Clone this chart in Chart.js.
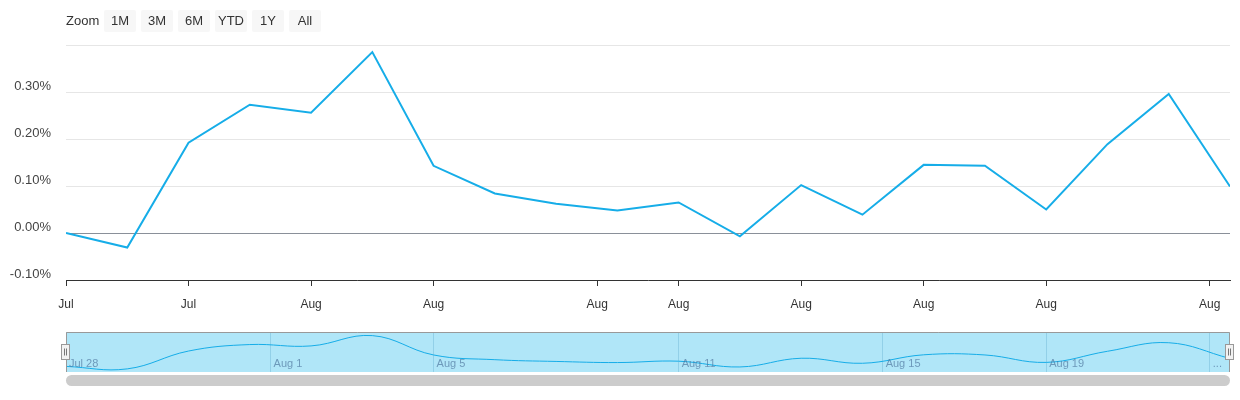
<!DOCTYPE html>
<html>
<head>
<meta charset="utf-8">
<script src="https://cdn.jsdelivr.net/npm/chart.js@4.4.1/dist/chart.umd.min.js"></script>
<style>
  body { margin: 0; background: #fff; font-family: 'Liberation Sans', Arial, sans-serif; }
  #wrap { position: relative; width: 1240px; height: 400px; overflow: hidden; }
  #main { position: absolute; left: 0; top: 0; }
  #nav { position: absolute; left: 0; top: 320px; }
  .zoom-label { position: absolute; left: 66px; top: 10px; height: 22px; line-height: 22px; font-size: 13px; color: #333; }
  .btn { position: absolute; top: 10px; width: 32px; height: 22px; line-height: 22px; text-align: center;
         font-size: 13px; color: #333; background: #f7f7f7; border-radius: 2px; }
</style>
</head>
<body>
<div id="wrap">
  <canvas id="main" width="1240" height="320"></canvas>
  <canvas id="nav" width="1240" height="80"></canvas>
  <div class="zoom-label">Zoom</div>
  <div id="buttons"></div>
</div>
<script>
// daily return, in percent
var values = [0.000, -0.031, 0.192, 0.273, 0.256, 0.385, 0.143, 0.084, 0.062, 0.048,
              0.065, -0.007, 0.102, 0.039, 0.145, 0.143, 0.050, 0.189, 0.296, 0.099]

// main x axis ticks (ordinal positions) and their labels
var axisTickPos = [0, 2, 4, 6, 8.67, 10, 12, 14, 16, 18.67]
var axisTickLabels = ['Jul', 'Jul', 'Aug', 'Aug', 'Aug', 'Aug', 'Aug', 'Aug', 'Aug', 'Aug']

// navigator ticks
var navTickPos = [0, 3.34, 6, 10, 13.33, 16, 18.67]
var navTickLabels = ['Jul 28', 'Aug 1', 'Aug 5', 'Aug 11', 'Aug 15', 'Aug 19', '...']

var zoomButtons = ['1M', '3M', '6M', 'YTD', '1Y', 'All']

var lineColor = '#16ade8'

Chart.defaults.font.family = "'Liberation Sans', Arial, sans-serif"

var btnBox = document.getElementById('buttons')
zoomButtons.forEach(function(b, i) {
	var d = document.createElement('div')
	d.className = 'btn'
	d.style.left = (104 + i * 37) + 'px'
	d.textContent = b
	btnBox.appendChild(d)
})

var points = values.map(function(v, i) { return { x: i, y: v } })

new Chart(document.getElementById('main').getContext('2d'), {
	type: 'line',
	data: {
		datasets: [{
			data: points,
			borderColor: lineColor,
			borderWidth: 2,
			pointRadius: 0,
			tension: 0,
			fill: false
		}]
	},
	options: {
		responsive: false,
		animation: false,
		layout: { padding: { top: 45, right: 10, left: 0, bottom: 0 }, autoPadding: false },
		plugins: { legend: { display: false }, tooltip: { enabled: false } },
		scales: {
			x: {
				type: 'linear',
				min: 0,
				max: values.length - 1,
				afterBuildTicks: function(scale) {
					scale.ticks = axisTickPos.map(function(v) { return { value: v } })
				},
				afterFit: function(scale) { scale.height = 40 },
				grid: { drawOnChartArea: false, tickLength: 6, color: '#333' },
				border: { color: '#333', width: 1 },
				ticks: {
					autoSkip: false,
					maxRotation: 0,
					padding: 11,
					color: '#333',
					font: { size: 12 },
					callback: function(v, i) { return axisTickLabels[i] }
				}
			},
			y: {
				min: -0.1,
				max: 0.4,
				afterFit: function(scale) { scale.width = 66 },
				border: { display: false },
				grid: {
					drawTicks: false,
					color: function(ctx) {
						return Math.abs(ctx.tick.value) < 1e-9 ? '#8a9099' : '#e6e6e6'
					}
				},
				ticks: {
					stepSize: 0.1,
					padding: 15,
					labelOffset: -6,
					color: '#444',
					font: { size: 13 },
					callback: function(v) { return v > 0.39 ? '' : v.toFixed(2) + '%' }
				}
			}
		}
	}
})

var navigatorDecor = {
	id: 'navigatorDecor',
	beforeDraw: function(chart) {
		var a = chart.chartArea, ctx = chart.ctx
		ctx.save()
		ctx.fillStyle = '#b0e6f8'
		ctx.fillRect(a.left, a.top, a.right - a.left, a.bottom - a.top)
		ctx.restore()
	},
	afterDraw: function(chart) {
		var a = chart.chartArea, ctx = chart.ctx
		var xs = chart.scales.x
		ctx.save()
		// tick labels inside the navigator
		ctx.fillStyle = 'rgba(80,120,160,0.7)'
		ctx.font = "11px 'Liberation Sans', Arial, sans-serif"
		ctx.textAlign = 'left'
		ctx.textBaseline = 'middle'
		navTickPos.forEach(function(p, i) {
			ctx.fillText(navTickLabels[i], xs.getPixelForValue(p) + 3, a.bottom - 8)
		})
		// outline
		ctx.strokeStyle = '#999'
		ctx.lineWidth = 1
		ctx.beginPath()
		ctx.moveTo(a.left + 0.5, a.bottom)
		ctx.lineTo(a.left + 0.5, a.top + 0.5)
		ctx.lineTo(a.right - 0.5, a.top + 0.5)
		ctx.lineTo(a.right - 0.5, a.bottom)
		ctx.stroke()
		// handles
		;[a.left, a.right].forEach(function(cx) {
			var x = Math.round(cx) - 4.5, y = a.top + 12.5
			ctx.fillStyle = '#f2f2f2'
			ctx.strokeStyle = '#999'
			ctx.fillRect(x, y, 8, 15)
			ctx.strokeRect(x, y, 8, 15)
			ctx.strokeStyle = '#777'
			ctx.beginPath()
			ctx.moveTo(x + 3, y + 4); ctx.lineTo(x + 3, y + 11)
			ctx.moveTo(x + 5, y + 4); ctx.lineTo(x + 5, y + 11)
			ctx.stroke()
		})
		// scrollbar
		var sy = a.bottom + 3, sh = 11, r = 5.5
		ctx.fillStyle = '#cccccc'
		ctx.beginPath()
		ctx.moveTo(a.left + r, sy)
		ctx.lineTo(a.right - r, sy)
		ctx.arc(a.right - r, sy + r, r, -Math.PI / 2, Math.PI / 2)
		ctx.lineTo(a.left + r, sy + sh)
		ctx.arc(a.left + r, sy + r, r, Math.PI / 2, Math.PI * 1.5)
		ctx.fill()
		ctx.restore()
	}
}

new Chart(document.getElementById('nav').getContext('2d'), {
	type: 'line',
	data: {
		datasets: [{
			data: points,
			borderColor: lineColor,
			borderWidth: 1,
			pointRadius: 0,
			tension: 0.4,
			fill: false
		}]
	},
	options: {
		responsive: false,
		animation: false,
		layout: { padding: { top: 12, right: 10, left: 66, bottom: 28 }, autoPadding: false },
		plugins: { legend: { display: false }, tooltip: { enabled: false } },
		scales: {
			x: {
				type: 'linear',
				min: 0,
				max: values.length - 1,
				afterBuildTicks: function(scale) {
					scale.ticks = navTickPos.map(function(v) { return { value: v } })
				},
				afterFit: function(scale) { scale.height = 0 },
				grid: { drawTicks: false, color: '#92d0e8' },
				border: { display: false },
				ticks: { display: false }
			},
			y: { display: false, min: -0.07, max: 0.43 }
		}
	},
	plugins: [navigatorDecor]
})
</script>
</body>
</html>
